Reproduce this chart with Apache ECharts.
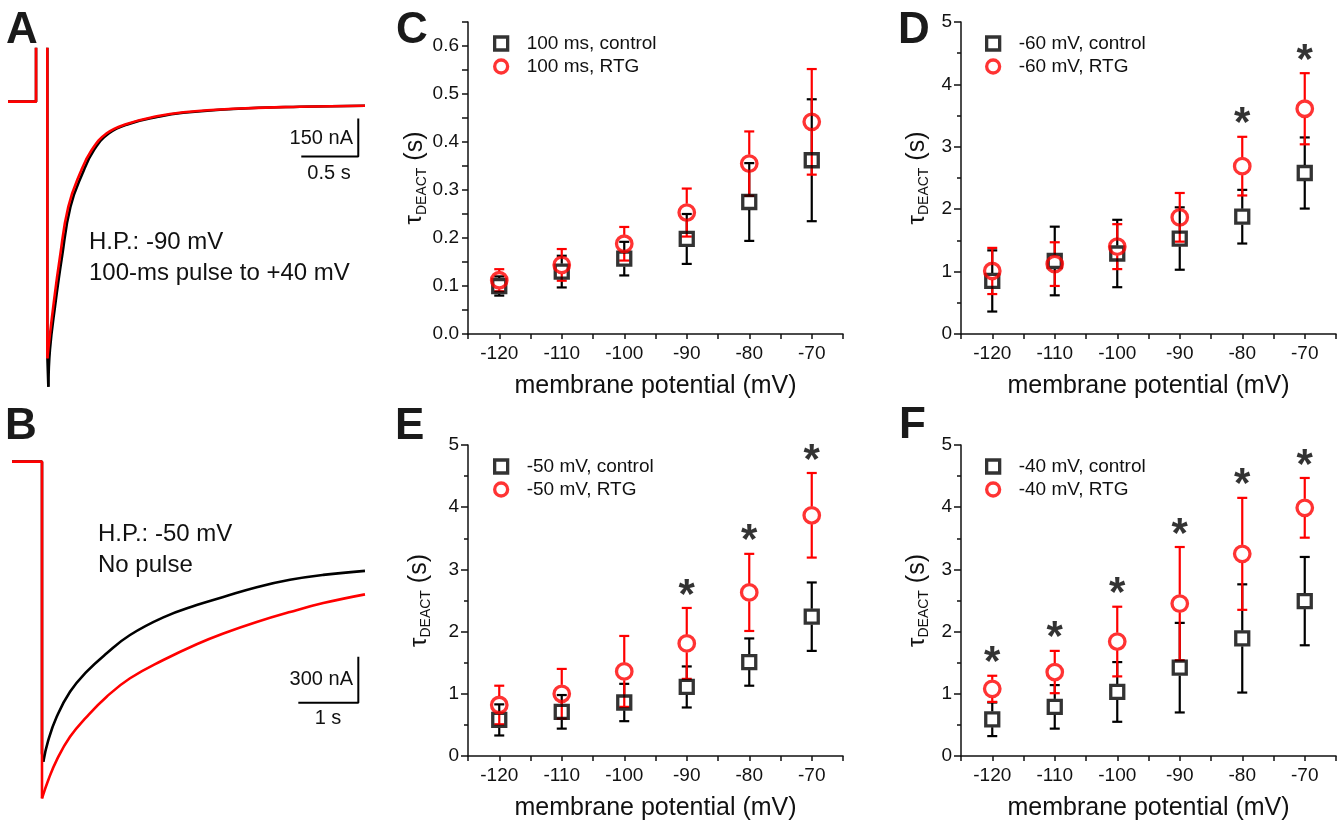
<!DOCTYPE html>
<html>
<head>
<meta charset="utf-8">
<script src="https://cdn.jsdelivr.net/npm/echarts@6/dist/echarts.min.js"></script>
<style>
  html, body { margin: 0; padding: 0; background: #fff; }
  #main { width: 1341px; height: 822px; }
</style>
</head>
<body>
<div id="main"></div>
<script>
// test potentials (mV)
const potentials = [-120, -110, -100, -90, -80, -70];

// C: 100 ms pulse
const cCtrl = [0.100, 0.130, 0.157, 0.198, 0.275, 0.362];
const cCtrlErr = [0.020, 0.033, 0.035, 0.052, 0.081, 0.127];
const cRtg = [0.112, 0.144, 0.188, 0.253, 0.355, 0.442];
const cRtgErr = [0.023, 0.033, 0.035, 0.050, 0.067, 0.110];
const cStars = [0, 0, 0, 0, 0, 0];

// D: -60 mV
const dCtrl = [0.85, 1.17, 1.29, 1.53, 1.88, 2.58];
const dCtrlErr = [0.49, 0.55, 0.54, 0.50, 0.43, 0.57];
const dRtg = [1.01, 1.12, 1.40, 1.87, 2.69, 3.61];
const dRtgErr = [0.37, 0.35, 0.36, 0.39, 0.47, 0.57];
const dStars = [0, 0, 0, 0, 1, 1];

// E: -50 mV
const eCtrl = [0.58, 0.71, 0.86, 1.11, 1.51, 2.24];
const eCtrlErr = [0.25, 0.27, 0.30, 0.33, 0.38, 0.55];
const eRtg = [0.82, 1.00, 1.36, 1.81, 2.63, 3.87];
const eRtgErr = [0.31, 0.40, 0.57, 0.57, 0.62, 0.68];
const eStars = [0, 0, 0, 1, 1, 1];

// F: -40 mV
const fCtrl = [0.59, 0.79, 1.03, 1.42, 1.89, 2.49];
const fCtrlErr = [0.27, 0.35, 0.48, 0.72, 0.87, 0.71];
const fRtg = [1.08, 1.35, 1.84, 2.45, 3.25, 3.99];
const fRtgErr = [0.21, 0.34, 0.56, 0.91, 0.90, 0.48];
const fStars = [1, 1, 1, 1, 1, 1];

// current traces, [time (s), current (nA)] relative to holding level
// step part (400 nA = off scale, clipped at the top), then the tail current
const stepABlack = [[0, 0], [0.246, 0], [0.246, 400], [0.345, 400], [0.345, -1000], [0.354, -1126]];
const tailABlack = [[0.354, -1126], [0.368, -980], [0.412, -810], [0.474, -612], [0.548, -415],
  [0.654, -283], [0.754, -191], [0.886, -125], [1.061, -88], [1.316, -60], [1.538, -44],
  [1.976, -29], [2.561, -20], [3.132, -16]];
const stepARed = [[0, 0], [0.246, 0], [0.246, 400], [0.345, 400], [0.345, -1014]];
const tailARed = [[0.345, -1014], [0.397, -810], [0.456, -612], [0.529, -415], [0.632, -283],
  [0.734, -191], [0.866, -125], [1.041, -88], [1.304, -58], [1.538, -42], [1.976, -28],
  [2.561, -20], [3.132, -16]];

const stepBBlack = [[0, 0], [0.5, 0], [0.5, -1900], [0.522, -1956]];
const tailBBlack = [[0.522, -1956], [0.605, -1815], [0.745, -1663], [0.967, -1500], [1.245, -1369],
  [1.578, -1249], [1.967, -1130], [2.522, -1015], [3.078, -935], [3.522, -882], [4.078, -818],
  [4.633, -770], [5.188, -738], [5.883, -712]];
const stepBRed = [[0, 0], [0.5, 0], [0.5, -2195]];
const tailBRed = [[0.5, -2195], [0.605, -2075], [0.745, -1945], [0.967, -1793], [1.245, -1663],
  [1.578, -1532], [1.967, -1412], [2.522, -1293], [3.078, -1190], [3.522, -1120], [4.078, -1045],
  [4.633, -980], [5.188, -922], [5.883, -865]];

// scale bars: corner [t, I], length in s and nA
const scaleA = { corner: [3.073, -217], dt: 0.5, dI: 150 };
const scaleB = { corner: [5.772, -1571], dt: 1, dI: 300 };

const FONT = 'Arial, "Liberation Sans", sans-serif';
const INK = '#111';
const RED = '#ff0000';

function errorBar(color, gap) {
  return function (params, api) {
    const x = api.value(0), m = api.value(1), e = api.value(2);
    const c = api.coord([x, m]);
    const top = api.coord([x, m + e]);
    const bot = api.coord([x, m - e]);
    const style = { stroke: color, lineWidth: 2.2 };
    const kids = [];
    if (top[1] < c[1] - gap) {
      kids.push({ type: 'line', shape: { x1: c[0], y1: c[1] - gap, x2: c[0], y2: top[1] }, style: style });
    }
    if (bot[1] > c[1] + gap) {
      kids.push({ type: 'line', shape: { x1: c[0], y1: c[1] + gap, x2: c[0], y2: bot[1] }, style: style });
    }
    kids.push({ type: 'line', shape: { x1: c[0] - 5, y1: top[1], x2: c[0] + 5, y2: top[1] }, style: style });
    kids.push({ type: 'line', shape: { x1: c[0] - 5, y1: bot[1], x2: c[0] + 5, y2: bot[1] }, style: style });
    return { type: 'group', children: kids };
  };
}

function panelSeries(idx, names, ctrl, ctrlErr, rtg, rtgErr, stars) {
  return [
    {
      type: 'custom', xAxisIndex: idx, yAxisIndex: idx, silent: true,
      renderItem: errorBar('#000', 8),
      encode: { x: 0, y: 1 },
      data: potentials.map((p, i) => [p, ctrl[i], ctrlErr[i]])
    },
    {
      type: 'scatter', name: names[0], xAxisIndex: idx, yAxisIndex: idx, silent: true,
      symbol: 'rect', symbolSize: 13,
      itemStyle: { color: 'rgba(0,0,0,0)', borderColor: '#000', borderWidth: 3.3 },
      data: potentials.map((p, i) => [p, ctrl[i]])
    },
    {
      type: 'custom', xAxisIndex: idx, yAxisIndex: idx, silent: true,
      renderItem: errorBar(RED, 9),
      encode: { x: 0, y: 1 },
      data: potentials.map((p, i) => [p, rtg[i], rtgErr[i]])
    },
    {
      type: 'scatter', name: names[1], xAxisIndex: idx, yAxisIndex: idx, silent: true,
      symbol: 'circle', symbolSize: 15.5,
      itemStyle: { color: 'rgba(0,0,0,0)', borderColor: RED, borderWidth: 3.3 },
      data: potentials.map((p, i) => [p, rtg[i]])
    },
    {
      type: 'scatter', xAxisIndex: idx, yAxisIndex: idx, silent: true,
      symbol: 'circle', symbolSize: 1, itemStyle: { color: 'rgba(0,0,0,0)' },
      label: { show: true, formatter: '*', position: 'inside', offset: [0, -12],
        fontSize: 42, fontWeight: 'bold', color: '#000', fontFamily: FONT },
      data: potentials.map((p, i) => [p, rtg[i] + rtgErr[i], stars[i]]).filter(d => d[2] === 1)
    }
  ];
}

function traceXAxis(grid, max) {
  return { type: 'value', gridIndex: grid, min: 0, max: max, show: false };
}
function traceYAxis(grid, min, max) {
  return { type: 'value', gridIndex: grid, min: min, max: max, show: false };
}

function potXAxis(grid) {
  return {
    type: 'value', gridIndex: grid, min: -125, max: -65, interval: 5,
    axisLine: { onZero: false, lineStyle: { color: INK, width: 1.5 } },
    axisTick: { length: 5, lineStyle: { color: INK, width: 1.5 } },
    axisLabel: { formatter: v => (v % 10 === 0 ? String(v) : ''), fontSize: 19, color: INK, margin: 10 },
    splitLine: { show: false },
    name: 'membrane potential (mV)', nameLocation: 'middle', nameGap: 40,
    nameTextStyle: { fontSize: 25, color: INK }
  };
}

const tauRich = {
  t: { fontSize: 24, color: INK, lineHeight: 28, verticalAlign: 'middle' },
  s: { fontSize: 14, color: INK, lineHeight: 28, verticalAlign: 'bottom' },
  n: { fontSize: 25, color: INK, lineHeight: 28, verticalAlign: 'middle' }
};

function tauYAxis(grid, max, interval, gap, fmt, minor) {
  return {
    type: 'value', gridIndex: grid, min: 0, max: max, interval: interval,
    axisLine: { show: true, onZero: false, lineStyle: { color: INK, width: 1.5 } },
    axisTick: { show: true, length: minor ? 7 : 6, lineStyle: { color: INK, width: 1.5 } },
    minorTick: { show: minor, splitNumber: 2, length: 4, lineStyle: { color: INK, width: 1.5 } },
    axisLabel: { formatter: fmt, fontSize: 19, color: INK, margin: 9 },
    splitLine: { show: false },
    name: '{t|τ}{s|DEACT}{n| (s)}', nameLocation: 'middle', nameRotate: 90, nameGap: gap,
    nameTextStyle: { rich: tauRich }
  };
}

function legendAt(left, top, names) {
  return {
    left: left, top: top, orient: 'vertical', itemWidth: 13, itemHeight: 13, itemGap: 4,
    selectedMode: false,
    itemStyle: { borderWidth: 3.3 },
    textStyle: { fontSize: 19, color: INK, padding: [0, 0, 0, 14] },
    data: names
  };
}

function scaleBarSeries(grid, sb) {
  const c = sb.corner;
  return {
    type: 'line', xAxisIndex: grid, yAxisIndex: grid, silent: true, symbol: 'none',
    lineStyle: { color: '#000', width: 2 },
    data: [[c[0] - sb.dt, c[1]], c, [c[0], c[1] + sb.dI]]
  };
}

function traceSeries(grid, data, color, smooth) {
  return {
    type: 'line', xAxisIndex: grid, yAxisIndex: grid, silent: true, symbol: 'none',
    clip: true, smooth: smooth ? 0.45 : false,
    lineStyle: { color: color, width: 2.6 }, data: data
  };
}

function txt(x, y, text, size, opts) {
  return {
    type: 'text', x: x, y: y, silent: true,
    style: Object.assign({ text: text, fill: INK, font: size + 'px ' + FONT,
      align: 'left', verticalAlign: 'middle' }, opts || {})
  };
}
function letter(x, y, text) {
  return txt(x, y, text, 44, { font: 'bold 44px ' + FONT, fill: '#1a1a1a' });
}

const namesC = ['100 ms, control', '100 ms, RTG'];
const namesD = ['-60 mV, control', '-60 mV, RTG'];
const namesE = ['-50 mV, control', '-50 mV, RTG'];
const namesF = ['-40 mV, control', '-40 mV, RTG'];

const fmtC = v => (Math.round(v * 100) % 10 === 0 && v < 0.64 ? v.toFixed(1) : '');
const fmtInt = v => String(v);

const chart = echarts.init(document.getElementById('main'), null, { renderer: 'canvas' });
chart.setOption({
  animation: false,
  backgroundColor: '#fff',
  textStyle: { fontFamily: FONT },
  grid: [
    { left: 8, top: 49, width: 357, height: 341 },
    { left: 12, top: 450, width: 354, height: 355 },
    { left: 468, top: 22, width: 375, height: 312 },
    { left: 961, top: 22, width: 375, height: 312 },
    { left: 468, top: 445, width: 375, height: 312 },
    { left: 961, top: 445, width: 375, height: 312 }
  ],
  xAxis: [
    traceXAxis(0, 3.132),
    traceXAxis(1, 5.9),
    potXAxis(2), potXAxis(3), potXAxis(4), potXAxis(5)
  ],
  yAxis: [
    traceYAxis(0, -1139, 208),
    traceYAxis(1, -2238, 76),
    tauYAxis(2, 0.65, 0.05, 35, fmtC, false),
    tauYAxis(3, 5, 1, 30, fmtInt, true),
    tauYAxis(4, 5, 1, 35, fmtInt, true),
    tauYAxis(5, 5, 1, 30, fmtInt, true)
  ],
  legend: [
    legendAt(488, 29, namesC),
    legendAt(980, 29, namesD),
    legendAt(488, 452, namesE),
    legendAt(980, 452, namesF)
  ],
  graphic: [
    letter(6, 31, 'A'), letter(5, 427, 'B'),
    letter(396, 31, 'C'), letter(898, 31, 'D'),
    letter(395, 427, 'E'), letter(899, 426, 'F'),
    txt(89, 242, 'H.P.: -90 mV', 24),
    txt(89, 273, '100-ms pulse to +40 mV', 24),
    txt(353, 138, '150 nA', 20, { align: 'right' }),
    txt(329, 173, '0.5 s', 20, { align: 'center' }),
    txt(98, 534, 'H.P.: -50 mV', 24),
    txt(98, 565, 'No pulse', 24),
    txt(353, 679, '300 nA', 20, { align: 'right' }),
    txt(328, 718, '1 s', 20, { align: 'center' })
  ],
  series: [
    traceSeries(0, stepABlack, '#000', false),
    traceSeries(0, tailABlack, '#000', true),
    traceSeries(0, stepARed, RED, false),
    traceSeries(0, tailARed, RED, true),
    scaleBarSeries(0, scaleA),
    traceSeries(1, stepBBlack, '#000', false),
    traceSeries(1, tailBBlack, '#000', true),
    traceSeries(1, stepBRed, RED, false),
    traceSeries(1, tailBRed, RED, true),
    scaleBarSeries(1, scaleB)
  ].concat(
    panelSeries(2, namesC, cCtrl, cCtrlErr, cRtg, cRtgErr, cStars),
    panelSeries(3, namesD, dCtrl, dCtrlErr, dRtg, dRtgErr, dStars),
    panelSeries(4, namesE, eCtrl, eCtrlErr, eRtg, eRtgErr, eStars),
    panelSeries(5, namesF, fCtrl, fCtrlErr, fRtg, fRtgErr, fStars)
  )
});
</script>
</body>
</html>
